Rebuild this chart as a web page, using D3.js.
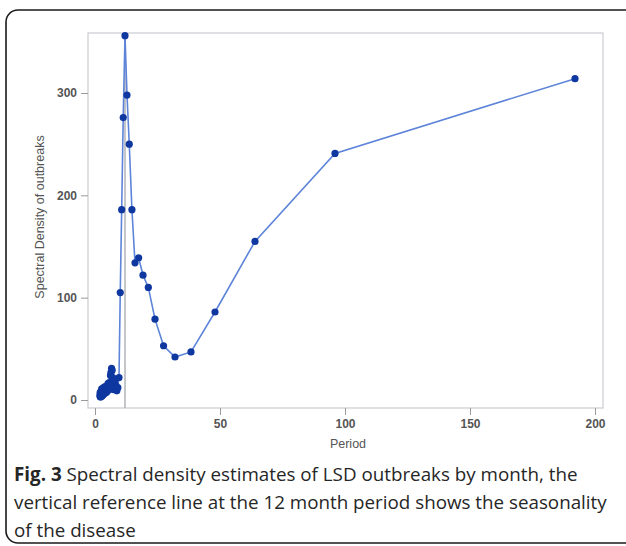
<!DOCTYPE html>
<html>
<head>
<meta charset="utf-8">
<script src="https://cdn.jsdelivr.net/npm/d3@7"></script>
<style>
  html, body { margin: 0; padding: 0; background: #fff; }
</style>
</head>
<body>
<div id="chart"></div>
<script>
// period (months) and spectral density
const periods = [
  2.00, 2.04, 2.09, 2.13, 2.18, 2.23, 2.29, 2.34, 2.40, 2.46, 2.53, 2.59, 2.67, 2.74,
  2.82, 2.91, 3.00, 3.10, 3.20, 3.31, 3.43, 3.56, 3.69, 3.84, 4.00, 4.17, 4.36, 4.57,
  4.80, 4.92, 5.05, 5.19, 5.33, 5.49, 5.65, 5.82, 6.00, 6.19, 6.40, 6.62, 6.86, 7.11,
  7.38, 7.68, 8.00, 8.35, 8.73, 9.14, 9.60, 10.10, 10.67, 11.29, 12.00, 12.80, 13.71,
  14.77, 16.00, 17.45, 19.20, 21.33, 24.00, 27.43, 32.00, 38.40, 48.00, 64.00, 96.00, 192.00
];
const density = [
  4, 7, 5, 3, 4, 8, 6, 3, 5, 7, 4, 6, 11, 9,
  4, 6, 8, 10, 5, 7, 12, 9, 6, 8, 13, 10, 7, 11,
  8, 12, 9, 16, 11, 13, 17, 12, 15, 24, 27, 31, 29, 22,
  10, 17, 19, 14, 9, 12, 22, 105, 186, 276, 356, 298, 250,
  186, 134, 139, 122, 110, 79, 53, 42, 47, 86, 155, 241, 314
];
const xTicks = [0, 50, 100, 150, 200];
const yTicks = [0, 100, 200, 300];
const refPeriod = 12;

const width = 626, height = 546;
const frame = { left: 88, right: 603, top: 33, bottom: 408 };

const svg = d3.select("#chart").append("svg")
  .attr("width", width).attr("height", height)
  .style("display", "block")
  .style("font-family", "'Liberation Sans', Arial, sans-serif");

// outer rounded card border
svg.append("rect")
  .attr("x", 6).attr("y", 10)
  .attr("width", 660).attr("height", 533)
  .attr("rx", 12)
  .attr("fill", "none")
  .attr("stroke", "#1a1a1a")
  .attr("stroke-width", 1.6);

const x = d3.scaleLinear().domain([0, 200]).range([95, 595]);
const y = d3.scaleLinear().domain([0, 300]).range([400, 93]);

// plot frame
svg.append("rect")
  .attr("x", frame.left).attr("y", frame.top)
  .attr("width", frame.right - frame.left)
  .attr("height", frame.bottom - frame.top)
  .attr("fill", "none")
  .attr("stroke", "#c9ccd2")
  .attr("stroke-width", 1.2);

// axes
const xAxis = svg.append("g")
  .attr("transform", `translate(0,${frame.bottom})`)
  .call(d3.axisBottom(x).tickValues(xTicks).tickSize(7).tickPadding(4));
const yAxis = svg.append("g")
  .attr("transform", `translate(${frame.left},0)`)
  .call(d3.axisLeft(y).tickValues(yTicks).tickSize(7).tickPadding(4));

[xAxis, yAxis].forEach(g => {
  g.select(".domain").remove();
  g.selectAll("line").attr("stroke", "#9a9a9a");
  g.selectAll("text")
    .attr("fill", "#555")
    .style("font-size", "12px")
    .style("font-weight", "bold")
    .style("font-family", "'Liberation Sans', Arial, sans-serif");
});

// axis titles
svg.append("text")
  .attr("x", 348).attr("y", 448)
  .attr("text-anchor", "middle")
  .attr("fill", "#555")
  .style("font-size", "12.5px")
  .text("Period");

svg.append("text")
  .attr("transform", "translate(44,217) rotate(-90)")
  .attr("text-anchor", "middle")
  .attr("fill", "#555")
  .style("font-size", "12.5px")
  .text("Spectral Density of outbreaks");

// reference line at 12 months
svg.append("line")
  .attr("x1", x(refPeriod)).attr("x2", x(refPeriod))
  .attr("y1", frame.top).attr("y2", frame.bottom)
  .attr("stroke", "#a6a8ad")
  .attr("stroke-width", 1.3);

const pts = periods.map((p, i) => ({ p, v: density[i] }));

svg.append("path")
  .datum(pts)
  .attr("fill", "none")
  .attr("stroke", "#5d84d8")
  .attr("stroke-width", 1.6)
  .attr("d", d3.line().x(d => x(d.p)).y(d => y(d.v)));

svg.append("g").selectAll("circle")
  .data(pts)
  .join("circle")
  .attr("cx", d => x(d.p))
  .attr("cy", d => y(d.v))
  .attr("r", 3.6)
  .attr("fill", "#0f37a0");

// caption
const cap = svg.append("g")
  .style("font-family", "'Open Sans', 'Noto Sans', sans-serif")
  .style("font-size", "18.8px")
  .attr("fill", "#262626");

const l1 = cap.append("text").attr("x", 14).attr("y", 481);
l1.append("tspan").style("font-weight", "bold").text("Fig. 3");
l1.append("tspan").text(" Spectral density estimates of LSD outbreaks by month, the");

cap.append("text").attr("x", 14).attr("y", 509)
  .text("vertical reference line at the 12 month period shows the seasonality");
cap.append("text").attr("x", 14).attr("y", 537)
  .text("of the disease");
</script>
</body>
</html>
